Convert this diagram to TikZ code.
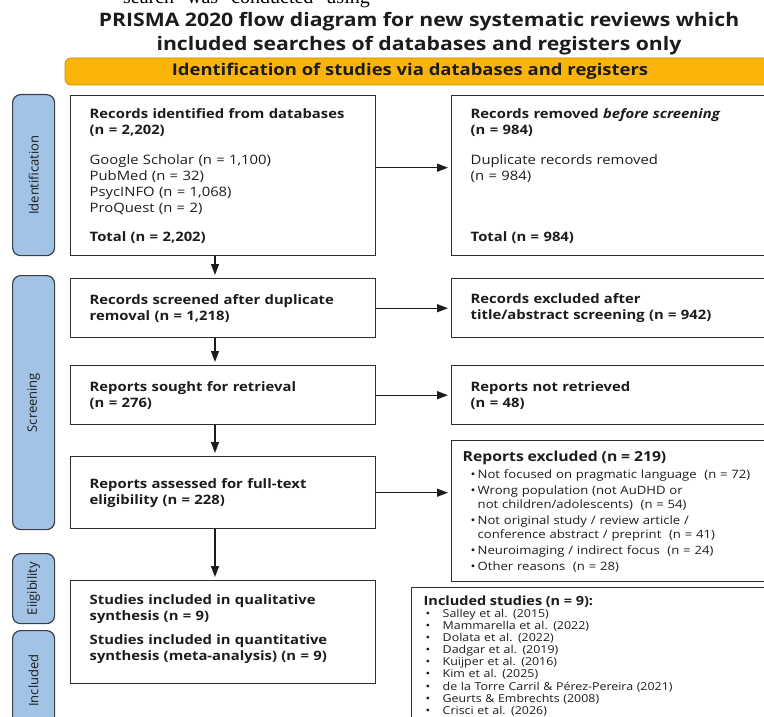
\documentclass[tikz,border=0pt]{standalone}
\usepackage{fontspec}
\usepackage{graphicx}
\setmainfont{Open Sans}[FakeStretch=1.14]
\newfontfamily\sidefont{Open Sans}
\newfontfamily\pageserif{Liberation Serif}
\usetikzlibrary{arrows.meta}
\definecolor{sideblue}{HTML}{A2C3E6}
\definecolor{sideline}{HTML}{3B4048}
\definecolor{bandgold}{HTML}{FBB40A}
\definecolor{bandline}{HTML}{C98E00}
\definecolor{boxline}{HTML}{2E2E2E}
\definecolor{ink}{HTML}{1C1C1C}
\newcommand{\bul}{\makebox[15pt][l]{\hspace{8pt}\textbullet}}
\newcommand{\sbul}{\makebox[19pt][l]{\hspace{2pt}\textbullet}}
\tikzset{
  box/.style={draw=boxline, line width=1.4pt, anchor=north west, align=left,
    inner xsep=19pt, text=ink, font=\fontsize{13}{16}\selectfont},
  sidebar/.style={draw=sideline, fill=sideblue, line width=1.2pt, rounded corners=8pt,
    anchor=north west, minimum width=42pt, inner sep=0pt, text=ink,
    font=\sidefont\fontsize{13}{16}\selectfont},
  flow/.style={-{Triangle[length=11pt,width=8pt]}, line width=1.3pt, color=ink, shorten >=3pt},
}

\begin{document}
\begin{tikzpicture}[x=1pt, y=-1pt]
\useasboundingbox (0,0) rectangle (764,717);
% line of the page above, cut off
\node[anchor=base east, font=\pageserif\fontsize{20}{24}\selectfont, inner sep=0pt] (cutline) at (370,4)
  {search\hspace{8pt} was\hspace{8pt} conducted\hspace{8pt} using};
\node[font=\bfseries\fontsize{18.6}{24}\selectfont, align=center, text=ink] (title) at (419,34)
  {PRISMA 2020 flow diagram for new systematic reviews which\\
   included searches of databases and registers only};

% banner
\draw[fill=bandgold, draw=bandline, line width=0.8pt, rounded corners=6pt] (65,58) rectangle (800,85);
\node[font=\bfseries\fontsize{16.2}{18}\selectfont, text=ink] (band) at (410,71.5)
  {Identification of studies via databases and registers};

% phases
\node[sidebar, minimum height=161pt] (sideid) at (12,94) {\rotatebox{90}{Identification}};
\node[sidebar, minimum height=254pt] (sidescr) at (12,275) {\rotatebox{90}{Screening}};
\node[sidebar, minimum height=70pt] (sideelig) at (12,553) {\rotatebox{90}{Eiigibility}};
\node[sidebar, minimum height=100pt] (sideinc) at (12,630) {\rotatebox{90}{Included}};

% left column
\node[box, minimum height=160pt, text width=267pt] (ident) at (70,95)
  {\textbf{Records identified from databases}\\ \textbf{(n = 2,202)}\\[14pt]
   Google Scholar (n = 1,100)\\ PubMed (n = 32)\\ PsycINFO (n = 1,068)\\ ProQuest (n = 2)\\[13pt]
   \textbf{Total (n = 2,202)}};
\node[box, minimum height=59pt, text width=267pt] (screened) at (70,278)
  {\textbf{Records screened after duplicate}\\ \textbf{removal (n = 1,218)}};
\node[box, minimum height=59pt, text width=267pt] (sought) at (70,365)
  {\textbf{Reports sought for retrieval}\\ \textbf{(n = 276)}};
\node[box, minimum height=72pt, text width=267pt] (assessed) at (70,456)
  {\textbf{Reports assessed for full-text}\\ \textbf{eligibility (n = 228)}};
\node[box, minimum height=103pt, text width=267pt] (included) at (70,580)
  {\textbf{Studies included in qualitative}\\ \textbf{synthesis (n = 9)}\\[8pt]
   \textbf{Studies included in quantitative}\\ \textbf{synthesis (meta-analysis) (n = 9)}\\[-7pt]\mbox{}};

% right column
\node[box, minimum height=160pt, text width=302pt] (removed) at (451,95)
  {\textbf{Records removed \textit{before screening}}\\ \textbf{(n = 984)}\\[14pt]
   Duplicate records removed\\ (n = 984)\\[45pt]
   \textbf{Total (n = 984)}};
\node[box, minimum height=59pt, text width=302pt] (excluded) at (451,278)
  {\textbf{Records excluded after}\\ \textbf{title/abstract screening (n = 942)}};
\node[box, minimum height=59pt, text width=302pt] (notret) at (451,365)
  {\textbf{Reports not retrieved}\\ \textbf{(n = 48)}};
\node[box, minimum height=141pt, text width=318pt, inner xsep=11pt,
  font=\fontsize{11.5}{14}\selectfont] (repexcl) at (451,440)
  {{\fontsize{13.8}{15}\selectfont\textbf{Reports excluded (n = 219)}}\\[3pt]
   \bul Not focused on pragmatic language\ \ (n = 72)\\[2pt]
   \bul Wrong population (not AuDHD or\\
   \hspace*{15pt}not children/adolescents)\ \ (n = 54)\\[2pt]
   \bul Not original study / review article /\\
   \hspace*{15pt}conference abstract / preprint\ \ (n = 41)\\[2pt]
   \bul Neuroimaging / indirect focus\ \ (n = 24)\\[2pt]
   \bul Other reasons\ \ (n = 28)};
\node[box, text width=340pt, inner xsep=12pt, inner ysep=8pt,
  font=\fontsize{10.9}{12.1}\selectfont] (studies) at (411,587)
  {{\fontsize{12.7}{14}\selectfont\textbf{Included studies (n = 9):}}\\
   \sbul Salley et al. (2015)\\
   \sbul Mammarella et al. (2022)\\
   \sbul Dolata et al. (2022)\\
   \sbul Dadgar et al. (2019)\\
   \sbul Kuijper et al. (2016)\\
   \sbul Kim et al. (2025)\\
   \sbul de la Torre Carril \& Pérez-Pereira (2021)\\
   \sbul Geurts \& Embrechts (2008)\\
   \sbul Crisci et al. (2026)\\[12pt]\mbox{}};

% connectors
\coordinate (col) at (215,0);
\draw[flow] (ident.south -| col) -- (screened.north -| col);
\draw[flow] (screened.south -| col) -- (sought.north -| col);
\draw[flow] (sought.south -| col) -- (assessed.north -| col);
\draw[flow] (assessed.south -| col) -- (included.north -| col);
\draw[flow] ([yshift=8pt]ident.east) -- ([yshift=8pt]removed.west);
\draw[flow] (screened.east) -- (excluded.west);
\draw[flow] (sought.east) -- (notret.west);
\draw[flow] (assessed.east) -- (assessed.east -| repexcl.west);
\end{tikzpicture}
\end{document}
